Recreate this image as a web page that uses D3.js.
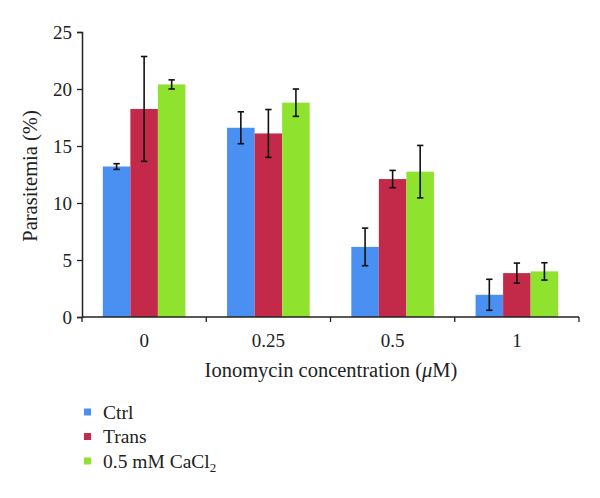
<!DOCTYPE html>
<html><head><meta charset="utf-8">
<script src="https://cdn.jsdelivr.net/npm/d3@7"></script>
<style>body{margin:0;background:#fff}svg{display:block}text{font-family:"Liberation Serif","DejaVu Serif",serif;fill:#222}</style>
</head><body>
<svg id="c" width="600" height="498"></svg>
<script>
const categories = ["0", "0.25", "0.5", "1"];
const seriesNames = ["Ctrl", "Trans", "0.5 mM CaCl2"];
const ctrl = [13.2, 16.6, 6.15, 1.95];
const trans = [18.25, 16.1, 12.1, 3.85];
const cacl2 = [20.4, 18.8, 12.75, 4.0];
const ctrlErr = [0.25, 1.4, 1.65, 1.36];
const transErr = [4.6, 2.1, 0.76, 0.88];
const cacl2Err = [0.4, 1.2, 2.3, 0.76];
const yTicks = [0, 5, 10, 15, 20, 25];
const colors = ["#4a8ff2", "#c32a4a", "#8fe22d"];

const values = [ctrl, trans, cacl2];
const errs = [ctrlErr, transErr, cacl2Err];
const svg = d3.select("#c");
const m = {l: 82, r: 21, t: 32, b: 181};
const W = 600, H = 498;
const x = d3.scaleBand().domain(categories).range([m.l, W - m.r]).paddingInner(0).paddingOuter(0);
const y = d3.scaleLinear().domain([0, 25]).range([H - m.b, m.t]);
const groupW = x.bandwidth() * 0.665;
const xs = d3.scaleBand().domain(seriesNames).range([0, groupW]);

const g = svg.append("g");
categories.forEach((c, i) => {
  const x0 = x(c) + (x.bandwidth() - groupW) / 2;
  seriesNames.forEach((s, j) => {
    g.append("rect").attr("x", x0 + xs(s)).attr("width", xs.bandwidth())
      .attr("y", y(values[j][i])).attr("height", y(0) - y(values[j][i]))
      .attr("fill", colors[j]);
  });
});
// error bars
categories.forEach((c, i) => {
  const x0 = x(c) + (x.bandwidth() - groupW) / 2;
  seriesNames.forEach((s, j) => {
    const cx = x0 + xs(s) + xs.bandwidth() / 2;
    const v = values[j][i], e = errs[j][i];
    const eg = g.append("g").attr("stroke", "#111").attr("stroke-width", 1.6);
    eg.append("line").attr("x1", cx).attr("x2", cx).attr("y1", y(v + e)).attr("y2", y(v - e));
    eg.append("line").attr("x1", cx - 3.2).attr("x2", cx + 3.2).attr("y1", y(v + e)).attr("y2", y(v + e));
    eg.append("line").attr("x1", cx - 3.2).attr("x2", cx + 3.2).attr("y1", y(v - e)).attr("y2", y(v - e));
  });
});

// y axis
const ya = svg.append("g").attr("transform", `translate(${m.l},0)`)
  .call(d3.axisLeft(y).tickValues(yTicks).tickSize(5).tickPadding(5).tickFormat(d3.format("d")));
ya.select(".domain").attr("stroke", "#222").attr("stroke-width", 1.5);
ya.selectAll(".tick line").attr("stroke", "#222").attr("stroke-width", 1.3);
ya.selectAll("text").style("font-size", "19px").attr("fill", "#222");

// x axis with ticks at band boundaries
const xa = svg.append("g").attr("transform", `translate(0,${y(0)})`);
xa.append("line").attr("x1", m.l).attr("x2", W - m.r).attr("stroke", "#222").attr("stroke-width", 1.5);
const bounds = categories.map(c => x(c)).concat([x(categories[categories.length - 1]) + x.bandwidth()]);
xa.selectAll("line.t").data(bounds).enter().append("line").attr("class", "t")
  .attr("x1", d => d).attr("x2", d => d).attr("y1", 0).attr("y2", 5).attr("stroke", "#222").attr("stroke-width", 1.3);
xa.selectAll("text").data(categories).enter().append("text")
  .attr("x", d => x(d) + x.bandwidth() / 2).attr("y", 30).attr("text-anchor", "middle")
  .style("font-size", "19px").text(d => d);

// titles
svg.append("text").attr("x", 331).attr("y", 377).attr("text-anchor", "middle").style("font-size", "20.5px")
  .html('Ionomycin concentration (<tspan font-style="italic">μ</tspan>M)');
svg.append("text").attr("transform", "translate(37,176) rotate(-90)").attr("text-anchor", "middle")
  .style("font-size", "20.5px").text("Parasitemia (%)");

// legend
const lg = svg.append("g");
seriesNames.forEach((s, j) => {
  const cy = 412 + j * 24.5;
  lg.append("rect").attr("x", 84).attr("y", cy - 3.5).attr("width", 7).attr("height", 7).attr("fill", colors[j]);
  const t = lg.append("text").attr("x", 103).attr("y", cy + 6.5).style("font-size", "19.5px");
  if (j === 2) {
    t.html('0.5 mM CaCl<tspan dy="4" font-size="13px">2</tspan>');
  } else t.text(s);
});
</script>
</body></html>
